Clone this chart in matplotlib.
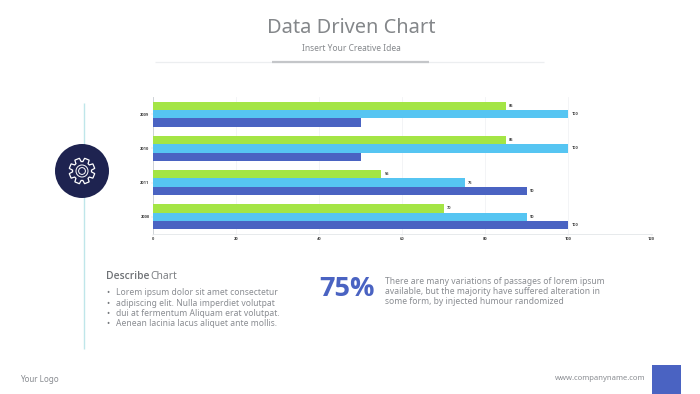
import numpy as np
import matplotlib
matplotlib.use("Agg")
import matplotlib.pyplot as plt
from matplotlib.patches import Circle, Rectangle, Polygon

plt.rcParams['font.family'] = ['Noto Sans', 'DejaVu Sans']

categories = ['2000', '2011', '2010', '2009']
green_values = [70, 55, 85, 85]
cyan_values = [90, 75, 100, 100]
blue_values = [100, 90, 50, 50]
x_ticks = [0, 20, 40, 60, 80, 100, 120]
bullets = ['Lorem ipsum dolor sit amet consectetur',
           'adipiscing elit. Nulla imperdiet volutpat',
           'dui at fermentum Aliquam erat volutpat.',
           'Aenean lacinia lacus aliquet ante mollis.']
para = ['There are many variations of passages of lorem ipsum',
        'available, but the majority have suffered alteration in',
        'some form, by injected humour randomized']

W, H = 700, 394
GREEN, CYAN, BLUE, NAVY = '#A4E545', '#56C5F2', '#4A63C2', '#1E2350'
GREY = '#8A8D92'

fig = plt.figure(figsize=(7, 3.94), dpi=100, facecolor='white')
bg = fig.add_axes([0, 0, 1, 1])
bg.set_xlim(0, W); bg.set_ylim(H, 0); bg.axis('off')

# chart
ax = fig.add_axes([153 / W, 1 - 234 / H, (651.5 - 153) / W, 137 / H])
y = np.arange(len(categories))
h = 0.245
for off, vals, col in [(h, green_values, GREEN), (0, cyan_values, CYAN), (-h, blue_values, BLUE)]:
    bars = ax.barh(y + off, vals, height=h, color=col, zorder=3)
    for b, v in zip(bars, vals):
        if col == BLUE and v == 50:
            continue
        ax.text(v + 0.7, b.get_y() + h / 2, str(v), fontsize=2.9, color='#444444',
                fontweight='bold', family='Open Sans', va='center', ha='left', zorder=4)
ax.set_xlim(0, 120)
ax.set_ylim(-0.5, 3.5)
ax.set_xticks(x_ticks)
ax.set_yticks(y, categories)
ax.tick_params(axis='both', labelsize=3, labelcolor='#444444', length=1.5, width=0.3,
               color='#D5D8DC', pad=1)
for lab in ax.get_xticklabels() + ax.get_yticklabels():
    lab.set_family('Open Sans'); lab.set_fontweight('bold')
ax.xaxis.grid(True, color='#F1F3F5', lw=0.6, zorder=0)
ax.set_axisbelow(True)
for s in ['top', 'right']:
    ax.spines[s].set_visible(False)
ax.spines['left'].set_color('#C9CDD2'); ax.spines['left'].set_linewidth(0.6)
ax.spines['bottom'].set_color('#E3E6E9'); ax.spines['bottom'].set_linewidth(0.6)

# header
bg.text(351, 28, 'Data Driven Chart', fontsize=14.4, color='#84878A', ha='center', va='center')
bg.text(351, 48.5, 'Insert Your Creative Idea', fontsize=6.1, color='#85888C', ha='center', va='center')
bg.plot([155, 544], [61.5, 61.5], color='#ECEEF0', lw=0.9, solid_capstyle='butt')
bg.plot([272, 429], [61.5, 61.5], color='#C4C6C9', lw=1.6, solid_capstyle='butt')

# vertical line + gear badge
bg.plot([84, 84], [103, 349], color='#BFE6EA', lw=1.0, solid_capstyle='butt')
cx, cy = 82, 171
bg.add_patch(Circle((cx, cy), 27, facecolor=NAVY, edgecolor='none', zorder=5))
n = 8
pts = []
for i in range(n):
    a = 2 * np.pi * i / n + np.pi / 8
    for da, r in [(-0.30, 9.5), (-0.19, 13), (0.19, 13), (0.30, 9.5)]:
        pts.append((cx + r * np.cos(a + da), cy + r * np.sin(a + da)))
bg.add_patch(Polygon(pts, closed=True, fill=False, edgecolor='white', lw=0.9, zorder=6))
bg.add_patch(Circle((cx, cy), 6, fill=False, edgecolor='white', lw=0.7, zorder=6))
bg.add_patch(Circle((cx, cy), 3.4, fill=False, edgecolor='white', lw=0.7, zorder=6))

# describe block
bg.text(106, 276.5, 'Describe', fontsize=7.4, color='#6F7276', ha='left', va='center',
        family='Open Sans', fontweight='semibold')
bg.text(150, 276.5, 'Chart', fontsize=7.4, color='#7D8084', ha='left', va='center')
for i, line in enumerate(bullets):
    yy = 292.5 + i * 10.5
    bg.text(106, yy, '•', fontsize=6.1, color='#777A7E', ha='left', va='center')
    bg.text(116, yy, line, fontsize=6.15, color=GREY, ha='left', va='center')

# 75%
bg.text(319, 289, '75%', fontsize=19.5, color=BLUE, family='Open Sans', fontweight='bold',
        ha='left', va='center')
for i, line in enumerate(para):
    bg.text(385, 281 + i * 10.5, line, fontsize=6.15, color=GREY, ha='left', va='center')

# footer
bg.text(20, 379, 'Your Logo', fontsize=5.8, color='#8A8D92', ha='left', va='center')
bg.text(645, 379, 'www.companyname.com', fontsize=5.5, color='#8A8D92', ha='right', va='center')
bg.add_patch(Rectangle((652, 365), 29, 29, facecolor=BLUE, edgecolor='none'))

fig.savefig('out.png', dpi=100, facecolor='white')
